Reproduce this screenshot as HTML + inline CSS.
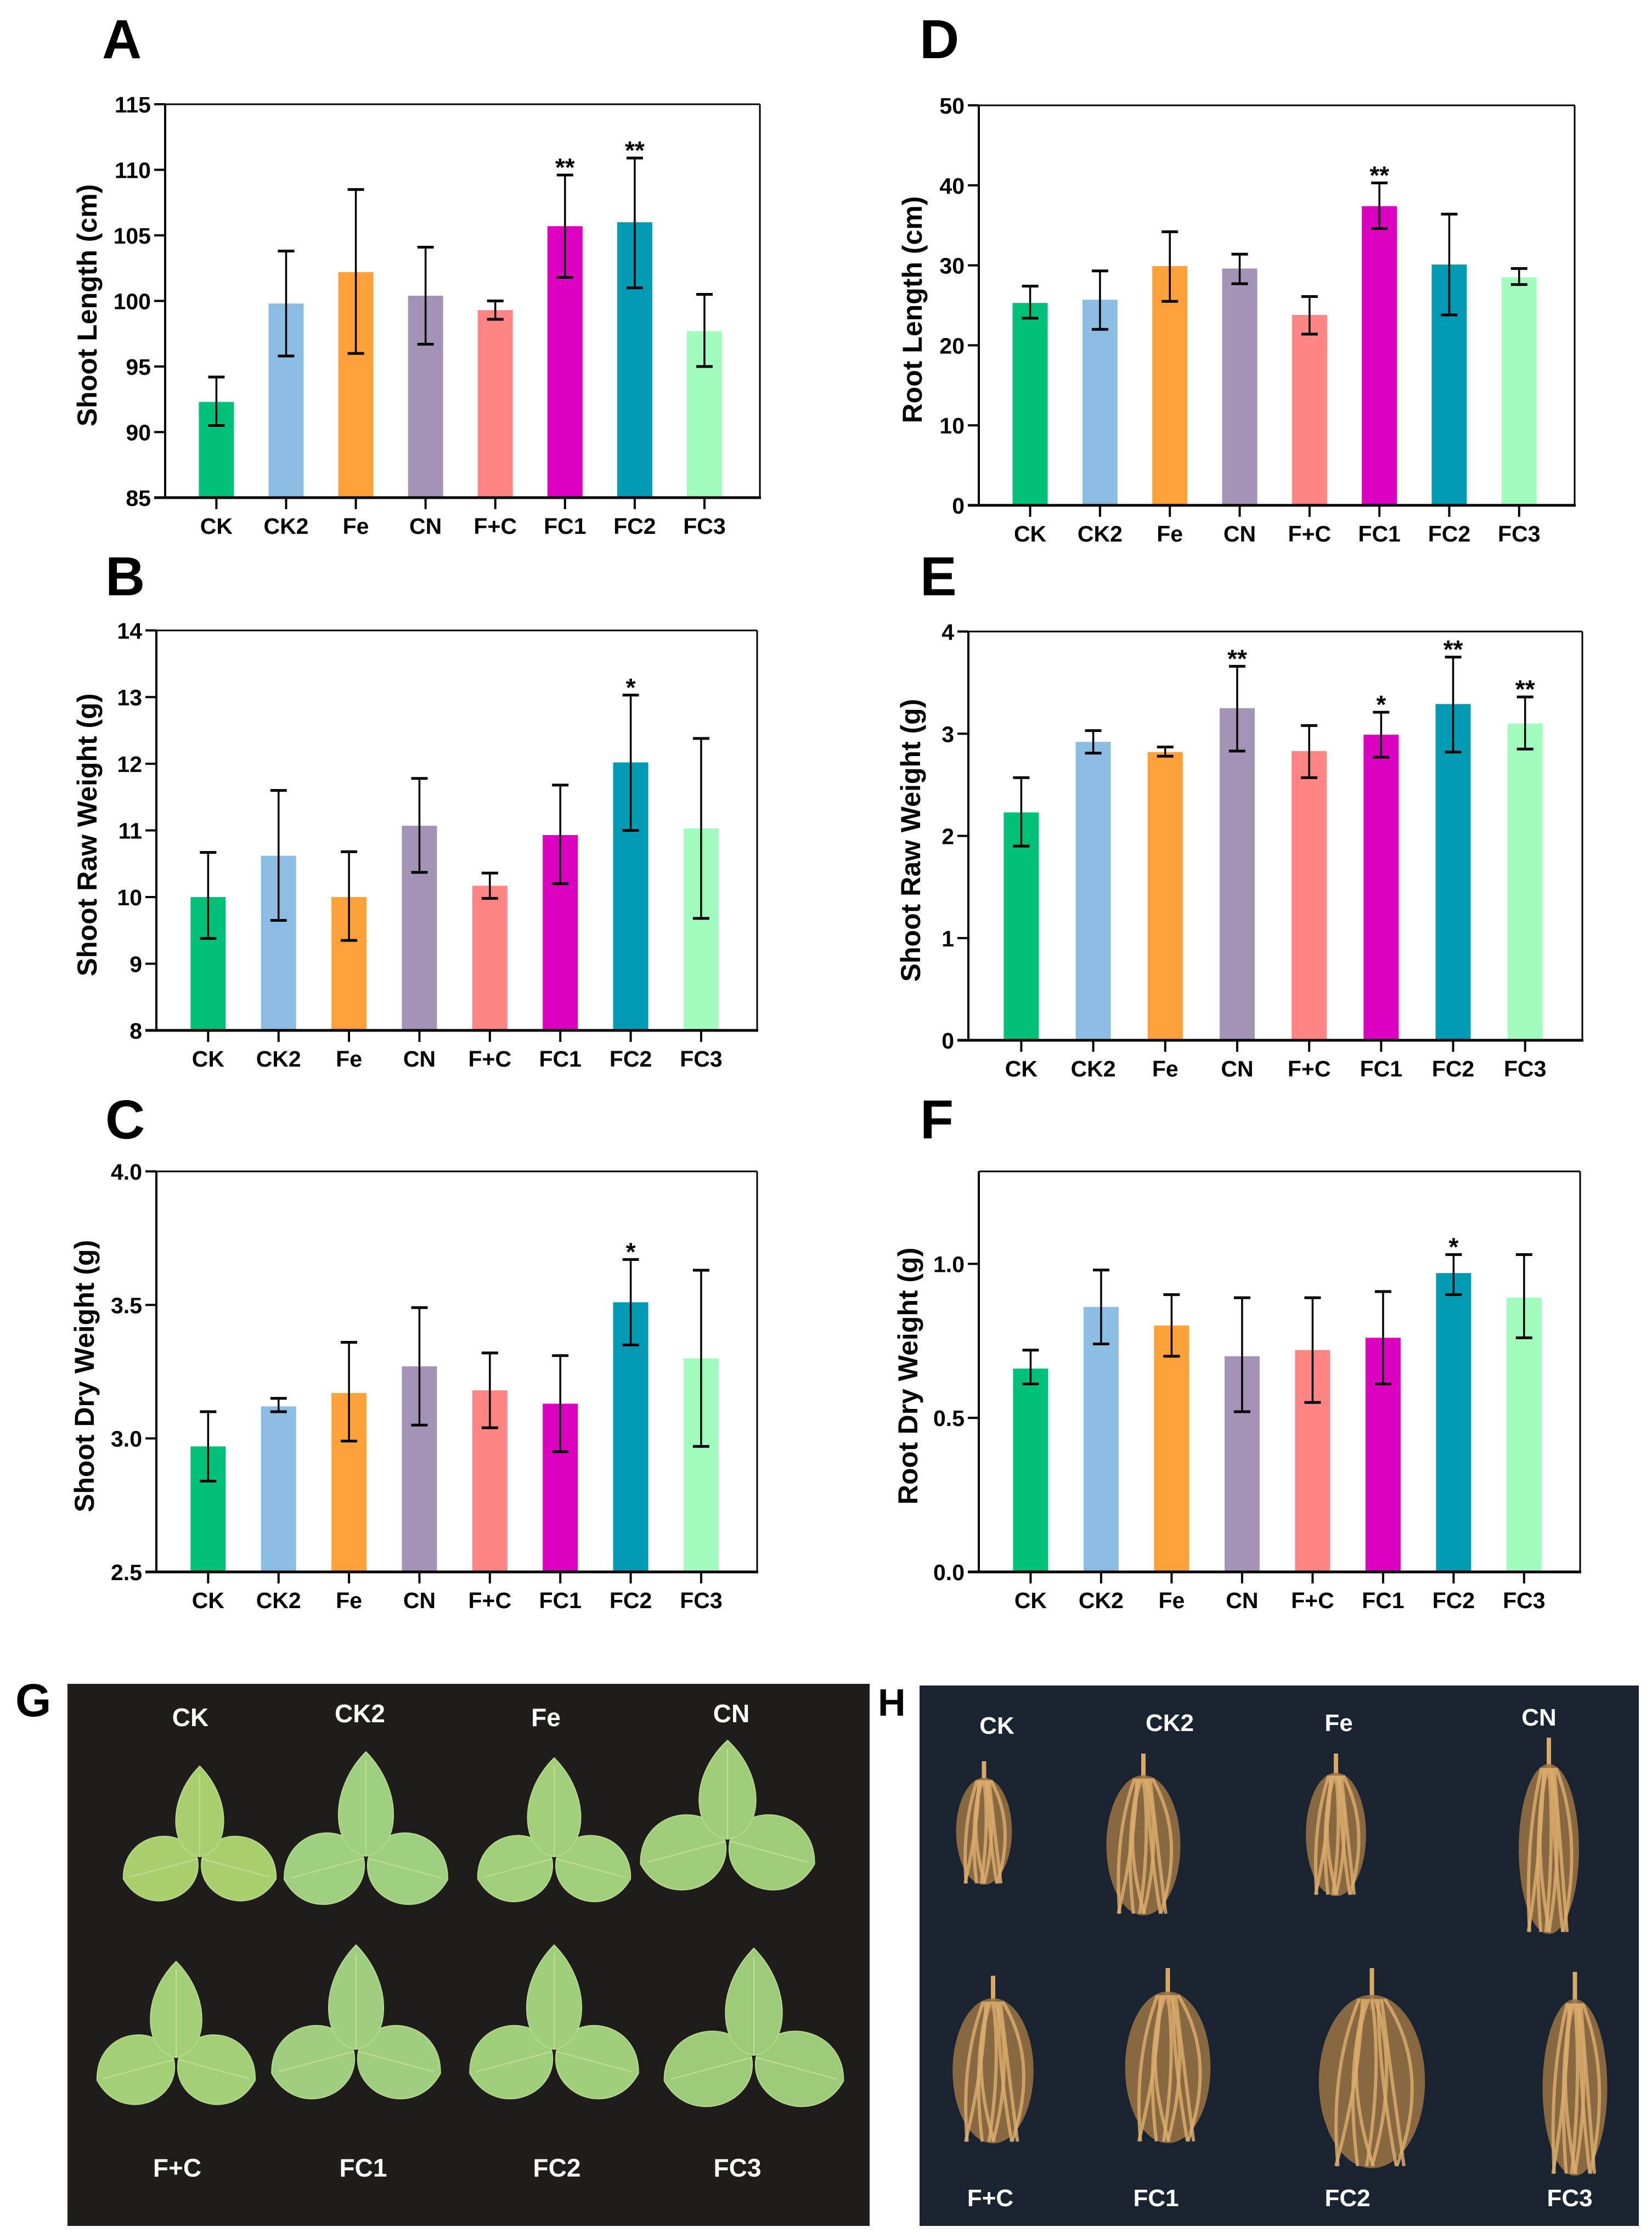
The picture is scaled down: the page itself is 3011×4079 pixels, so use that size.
<!DOCTYPE html>
<html><head><meta charset="utf-8">
<style>
html,body{margin:0;padding:0;background:#fff;}
svg{display:block;}
text{font-family:"Liberation Sans",Arial,sans-serif;font-weight:bold;}
</style></head>
<body>
<svg id="fig" width="3011" height="4079" viewBox="0 0 3011 4079" xmlns="http://www.w3.org/2000/svg">
<rect x="0" y="0" width="3011" height="4079" fill="#fff"/>
</svg>
<script>
const categories = ["CK","CK2","Fe","CN","F+C","FC1","FC2","FC3"];
const barColors = ["#00c07a","#8cbde3","#ffa13a","#a393b6","#ff8585","#dc00c0","#009bb2","#a2fcbe"];

const aMeans = [92.3,99.8,102.2,100.4,99.3,105.7,106.0,97.7];
const aLow   = [90.5,95.8,96.0,96.7,98.6,101.8,101.0,95.0];
const aHigh  = [94.2,103.8,108.5,104.1,100.0,109.6,110.9,100.5];
const aStars = ["","","","","","**","**",""];
const aTicks = [85,90,95,100,105,110,115];

const bMeans = [10.0,10.62,10.0,11.07,10.17,10.93,12.02,11.03];
const bLow   = [9.38,9.65,9.35,10.37,9.98,10.2,11.0,9.68];
const bHigh  = [10.67,11.6,10.68,11.78,10.36,11.68,13.03,12.38];
const bStars = ["","","","","","","*",""];
const bTicks = [8,9,10,11,12,13,14];

const cMeans = [2.97,3.12,3.17,3.27,3.18,3.13,3.51,3.30];
const cLow   = [2.84,3.10,2.99,3.05,3.04,2.95,3.35,2.97];
const cHigh  = [3.10,3.15,3.36,3.49,3.32,3.31,3.67,3.63];
const cStars = ["","","","","","","*",""];
const cTicks = ["2.5","3.0","3.5","4.0"];

const dMeans = [25.3,25.7,29.9,29.6,23.8,37.4,30.1,28.5];
const dLow   = [23.4,22.0,25.5,27.7,21.4,34.6,23.8,27.6];
const dHigh  = [27.4,29.3,34.2,31.4,26.1,40.3,36.4,29.6];
const dStars = ["","","","","","**","",""];
const dTicks = [0,10,20,30,40,50];

const eMeans = [2.23,2.92,2.82,3.25,2.83,2.99,3.29,3.10];
const eLow   = [1.90,2.81,2.78,2.83,2.57,2.77,2.82,2.85];
const eHigh  = [2.57,3.03,2.87,3.66,3.08,3.21,3.75,3.36];
const eStars = ["","","","**","","*","**","**"];
const eTicks = [0,1,2,3,4];

const fMeans = [0.66,0.86,0.80,0.70,0.72,0.76,0.97,0.89];
const fLow   = [0.61,0.74,0.70,0.52,0.55,0.61,0.90,0.76];
const fHigh  = [0.72,0.98,0.90,0.89,0.89,0.91,1.03,1.03];
const fStars = ["","","","","","","*",""];
const fTicks = ["0.0","0.5","1.0"];

const NS = "http://www.w3.org/2000/svg";
const svg = document.getElementById('fig');
function mk(tag, attrs, parent){
  const e = document.createElementNS(NS, tag);
  for (const k in attrs) e.setAttribute(k, attrs[k]);
  (parent||svg).appendChild(e);
  return e;
}

function drawChart(id, box, ymin, ymax, ticks, means, lows, highs, stars, title, titleX, letter, letterX, letterY){
  const g = mk('g', {});
  
  
  const L = box[0], R = box[1], T = box[2], B = box[3];
  const W = R - L;
  const y = v => B - (v - ymin) / (ymax - ymin) * (B - T);
  const x = i => L + W * (0.735 + i) / 8.53;
  const lt = mk('text', {x: letterX, y: letterY, 'font-size': 100}, g);
  lt.textContent = letter;
  
  
  means.forEach((m, i) => {
    const r = mk('rect', {x: x(i) - 32, y: y(m), width: 64, height: B - y(m), fill: barColors[i]}, g);
    
    
  });
  means.forEach((m, i) => {
    const eg = mk('g', {stroke: '#000', 'stroke-width': 3.5}, g);
    
    
    mk('line', {x1: x(i), x2: x(i), y1: y(lows[i]), y2: y(highs[i])}, eg);
    mk('line', {x1: x(i) - 15, x2: x(i) + 15, y1: y(lows[i]), y2: y(lows[i]), 'stroke-width': 5}, eg);
    mk('line', {x1: x(i) - 15, x2: x(i) + 15, y1: y(highs[i]), y2: y(highs[i]), 'stroke-width': 5}, eg);
    if (stars[i]) {
      const s = mk('text', {x: x(i), y: y(highs[i]) + 2, 'font-size': 46, 'font-weight': 'normal', 'text-anchor': 'middle'}, g);
      s.textContent = stars[i];
      
      
    }
  });
  mk('line', {x1: L, x2: R, y1: T, y2: T, stroke: '#000', 'stroke-width': 3}, g);
  mk('line', {x1: R, x2: R, y1: T, y2: B, stroke: '#000', 'stroke-width': 3}, g);
  const ya = mk('line', {x1: L, x2: L, y1: T, y2: B + 2, stroke: '#000', 'stroke-width': 4}, g);
  
  
  const xa = mk('line', {x1: L - 20, x2: R + 2, y1: B, y2: B, stroke: '#000', 'stroke-width': 5}, g);
  
  
  ticks.forEach(t => {
    const v = parseFloat(t);
    mk('line', {x1: L - 20, x2: L, y1: y(v), y2: y(v), stroke: '#000', 'stroke-width': 4}, g);
    const tl = mk('text', {x: L - 26, y: y(v) + 15, 'font-size': 41, 'text-anchor': 'end'}, g);
    tl.textContent = t;
    
    
  });
  categories.forEach((c, i) => {
    mk('line', {x1: x(i), x2: x(i), y1: B, y2: B + 21, stroke: '#000', 'stroke-width': 4}, g);
    const cl = mk('text', {x: x(i), y: B + 66, 'font-size': 41, 'text-anchor': 'middle'}, g);
    cl.textContent = c;
    
    
  });
  const cy = (T + B) / 2 + 8;
  const tt = mk('text', {x: titleX, y: cy, 'font-size': 50, 'text-anchor': 'middle', transform: 'rotate(-90 ' + titleX + ' ' + cy + ')'}, g);
  tt.textContent = title;
  
  
}

drawChart('a', [301,1385,190,907], 85, 115, aTicks, aMeans, aLow, aHigh, aStars, 'Shoot Length (cm)', 176, 'A', 186, 106);
drawChart('b', [285,1380,1149,1878], 8, 14, bTicks, bMeans, bLow, bHigh, bStars, 'Shoot Raw Weight (g)', 176, 'B', 192, 1085);
drawChart('c', [285,1380,2135,2865], 2.5, 4.0, cTicks, cMeans, cLow, cHigh, cStars, 'Shoot Dry Weight (g)', 171, 'C', 192, 2075);
drawChart('d', [1784,2870,192,921], 0, 50, dTicks, dMeans, dLow, dHigh, dStars, 'Root Length (cm)', 1680, 'D', 1676, 106);
drawChart('e', [1765,2884,1151,1896], 0, 4, eTicks, eMeans, eLow, eHigh, eStars, 'Shoot Raw Weight (g)', 1677, 'E', 1677, 1085);
drawChart('f', [1784,2880,2135,2865], 0, 1.3, fTicks, fMeans, fLow, fHigh, fStars, 'Root Dry Weight (g)', 1672, 'F', 1677, 2075);

// ---------- Photo G: leaves ----------
const gp = mk('g', {});


mk('rect', {x: 123, y: 3069, width: 1462, height: 988, fill: '#1f1c1c'}, gp);
const gl = mk('text', {x: 28, y: 3128, 'font-size': 84}, svg);
gl.textContent = 'G';


function leaflet(par, bx, by, len, w, ang, col, round){
  const k = round ? 0.85 : 0.62;
  const d = `M0,0 C${w},${-len*0.05} ${w*1.15},${-len*k} 0,${-len} C${-w*1.15},${-len*k} ${-w},${-len*0.05} 0,0 Z`;
  mk('path', {d: d, fill: col, stroke: '#b9d98a', 'stroke-width': 2, transform: `translate(${bx},${by}) rotate(${ang})`}, par);
  mk('line', {x1: 0, y1: 0, x2: 0, y2: -len * 0.92, stroke: '#c5dc98', 'stroke-width': 2, transform: `translate(${bx},${by}) rotate(${ang})`}, par);
}
const leafSets = [
  [364,3384,165,54,140,72,'#a9cf6e'],[667,3383,190,62,150,80,'#9fcf80'],
  [1010,3384,180,60,140,74,'#a2d07a'],[1326,3352,180,64,160,84,'#9fcd7a'],
  [321,3750,175,58,145,78,'#a3cf78'],[649,3735,190,62,155,82,'#9fce80'],
  [1010,3735,190,62,155,82,'#a0cf7c'],[1374,3746,195,64,165,84,'#9ecb7a']
];
leafSets.forEach(s => {
  const lg = mk('g', {}, gp);
  
  
  leaflet(lg, s[0] - 4, s[1] + 4, s[4], s[5], -105, s[6], true);
  leaflet(lg, s[0] + 4, s[1] + 4, s[4], s[5], 105, s[6], true);
  leaflet(lg, s[0], s[1], s[2], s[3], 0, s[6], false);
});
const gLabels = [['CK',347,3146],['CK2',656,3139],['Fe',995,3146],['CN',1333,3139],['F+C',323,3967],['FC1',662,3967],['FC2',1015,3967],['FC3',1344,3967]];
gLabels.forEach(l => {
  const t = mk('text', {x: l[1], y: l[2], 'font-size': 46, fill: '#fff', 'text-anchor': 'middle'}, gp);
  t.textContent = l[0];
  
  
});

// ---------- Photo H: roots ----------
const hp = mk('g', {});


mk('rect', {x: 1676, y: 3072, width: 1311, height: 985, fill: '#1a2330'}, hp);
const hl = mk('text', {x: 1600, y: 3127, 'font-size': 70, 'font-weight': 'normal'}, svg);
hl.textContent = 'H';


const roots = [
  [1737,1850,3210,3442],[2009,2159,3196,3500],[2374,2496,3196,3464],[2762,2884,3167,3536],
  [1728,1892,3601,3916],[2042,2215,3587,3916],[2393,2608,3587,3963],[2805,2936,3594,3977]
];
roots.forEach(r => {
  const rg = mk('g', {}, hp);
  
  
  const cx = (r[0] + r[1]) / 2, w = r[1] - r[0], h = r[3] - r[2];
  mk('line', {x1: cx, y1: r[2], x2: cx, y2: r[2] + h * 0.2, stroke: '#d8a868', 'stroke-width': 8}, rg);
  mk('ellipse', {cx: cx, cy: r[2] + h * 0.55, rx: w * 0.45, ry: h * 0.42, fill: '#9c7444', opacity: 0.85}, rg);
  for (let j = 0; j < 9; j++) {
    const ox = (j - 4) * w * 0.09;
    const wob = Math.sin(j * 1.7) * w * 0.18;
    mk('path', {d: `M${cx + ox * 0.3},${r[2] + h * 0.15} Q${cx + ox + wob},${r[2] + h * 0.5} ${cx + ox * 0.8 - wob * 0.5},${r[3] - h * 0.04}`,
      fill: 'none', stroke: '#d9ab6c', 'stroke-width': 6, opacity: 0.85}, rg);
  }
});
const hLabels = [['CK',1817,3160],['CK2',2132,3155],['Fe',2440,3155],['CN',2805,3145],['F+C',1805,4021],['FC1',2107,4021],['FC2',2456,4021],['FC3',2861,4021]];
hLabels.forEach(l => {
  const t = mk('text', {x: l[1], y: l[2], 'font-size': 44, fill: '#fff', 'text-anchor': 'middle'}, hp);
  t.textContent = l[0];
  
  
});
</script>
</body></html>
